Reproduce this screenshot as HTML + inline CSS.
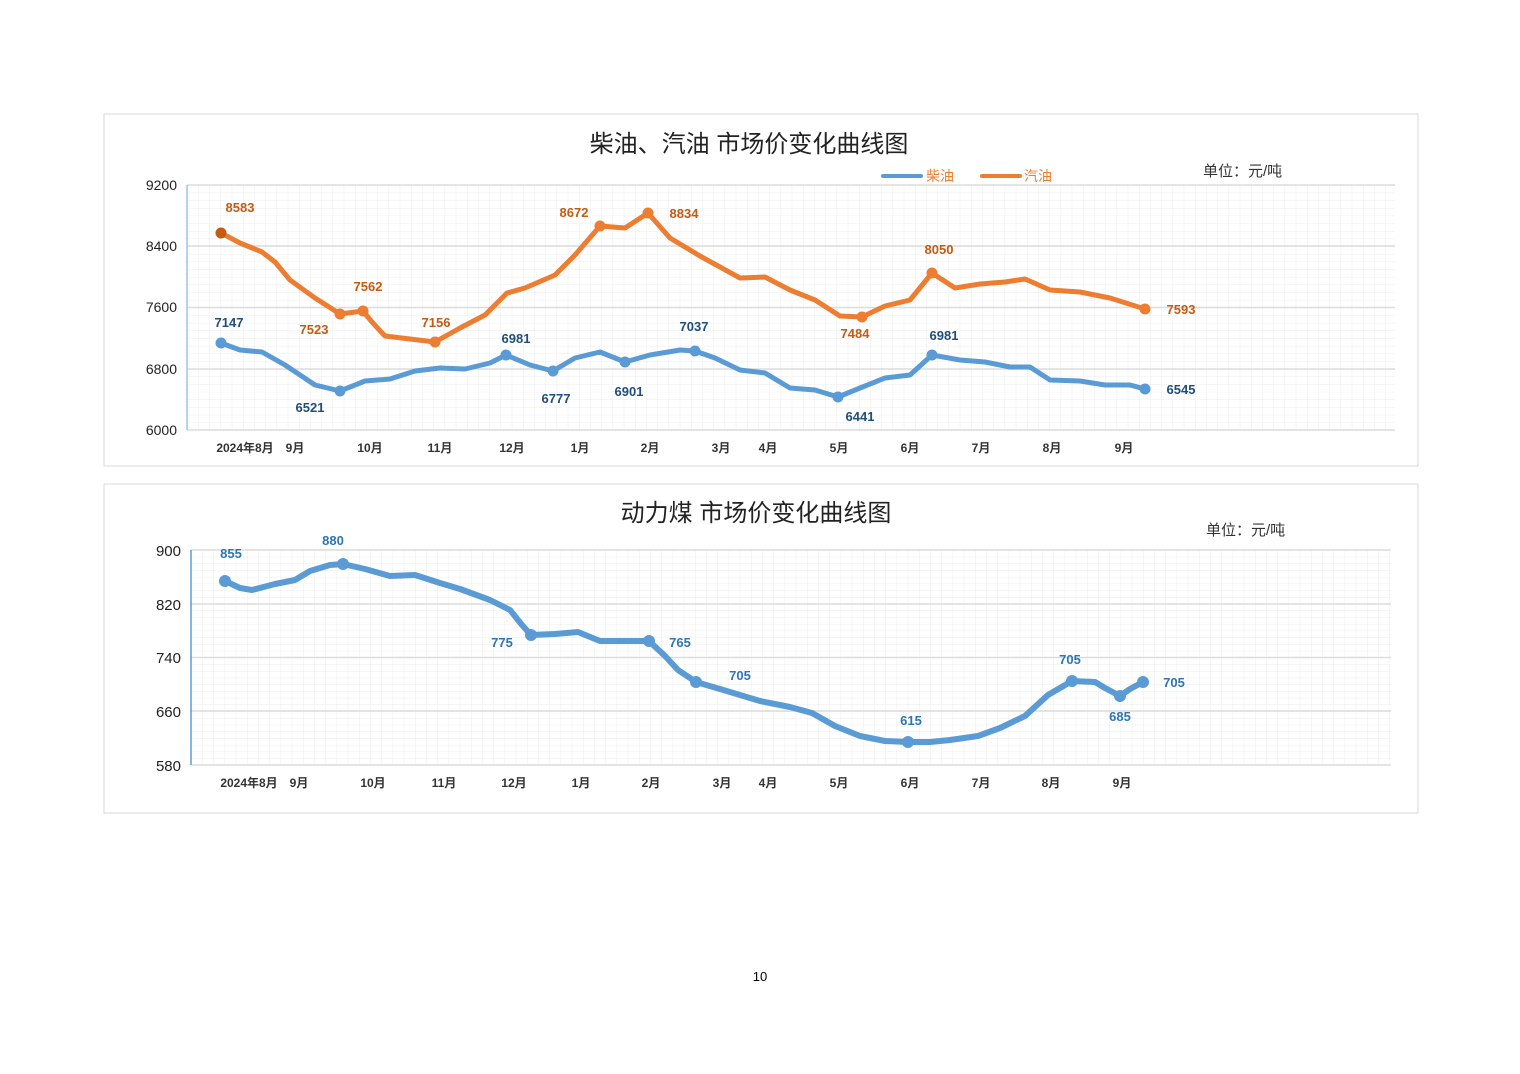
<!DOCTYPE html>
<html><head><meta charset="utf-8"><style>
body{margin:0;background:#fff}
svg{display:block}
text{font-family:"Liberation Sans","Noto Sans CJK SC",sans-serif}
</style></head><body>
<svg width="1520" height="1074" viewBox="0 0 1520 1074" xmlns="http://www.w3.org/2000/svg">
<defs>
<pattern id="g1" x="187" y="185" width="11.2" height="7.66" patternUnits="userSpaceOnUse">
<path d="M0 0V7.66M0 0H11.2" stroke="#ececec" stroke-width="1" fill="none"/></pattern>
<pattern id="g2" x="191" y="550" width="11.2" height="6.72" patternUnits="userSpaceOnUse">
<path d="M0 0V6.72M0 0H11.2" stroke="#ececec" stroke-width="1" fill="none"/></pattern>
</defs>
<rect width="1520" height="1074" fill="#fff"/>
<!-- TOP CHART -->
<rect x="104" y="114" width="1314" height="352" fill="#fff" stroke="#d9d9d9"/>
<text x="749" y="152" font-size="24" text-anchor="middle" fill="#222">柴油、汽油 市场价变化曲线图</text>
<line x1="883" y1="176" x2="921" y2="176" stroke="#5b9bd5" stroke-width="4" stroke-linecap="round"/>
<text x="926" y="181" font-size="14" fill="#ed7d31" font-family="Liberation Serif,'Noto Serif CJK SC',serif">柴油</text>
<line x1="982" y1="176" x2="1020" y2="176" stroke="#ed7d31" stroke-width="4" stroke-linecap="round"/>
<text x="1024" y="181" font-size="14" fill="#ed7d31" font-family="Liberation Serif,'Noto Serif CJK SC',serif">汽油</text>
<text x="1203" y="176" font-size="15" fill="#333" font-family="Liberation Serif,'Noto Serif CJK SC',serif">单位：元/吨</text>
<rect x="187" y="185" width="1208" height="245" fill="url(#g1)"/>
<g stroke="#dcdcdc" stroke-width="1.5"><line x1="187" y1="185" x2="1395" y2="185"/><line x1="187" y1="246" x2="1395" y2="246"/><line x1="187" y1="307.5" x2="1395" y2="307.5"/><line x1="187" y1="369" x2="1395" y2="369"/><line x1="187" y1="430" x2="1395" y2="430"/></g>
<line x1="187" y1="185" x2="187" y2="430" stroke="#9dc3e6" stroke-width="1.5"/>
<g font-size="14" fill="#222" text-anchor="end"><text x="177" y="190">9200</text><text x="177" y="251">8400</text><text x="177" y="312">7600</text><text x="177" y="374">6800</text><text x="177" y="435">6000</text></g>
<g font-size="12" fill="#333" text-anchor="middle" font-weight="bold"><text x="245" y="452">2024年8月</text><text x="295" y="452">9月</text><text x="370" y="452">10月</text><text x="440" y="452">11月</text><text x="512" y="452">12月</text><text x="580" y="452">1月</text><text x="650" y="452">2月</text><text x="721" y="452">3月</text><text x="768" y="452">4月</text><text x="839" y="452">5月</text><text x="910" y="452">6月</text><text x="981" y="452">7月</text><text x="1052" y="452">8月</text><text x="1124" y="452">9月</text></g>
<polyline fill="none" stroke="#ed7d31" stroke-width="5" stroke-linejoin="round" stroke-linecap="round" points="221,233 240,243 262,252 275,262 290,280 315,298 340,314 363,311 372,322 385,336 410,339 435,342 460,328 485,315 507,293 525,288 555,275 575,255 600,226 625,228 648,213 670,238 700,256 740,278 765,277 790,290 815,300 840,316 862,317 885,306 910,300 932,273 955,288 980,284 1005,282 1025,279 1050,290 1080,292 1110,298 1145,309"/>
<polyline fill="none" stroke="#5b9bd5" stroke-width="5" stroke-linejoin="round" stroke-linecap="round" points="221,343 240,350 262,352 285,365 315,385 340,391 365,381 390,379 415,371 440,368 465,369 490,363 506,355 530,365 553,371 575,358 600,352 625,362 650,355 680,350 695,351 715,358 740,370 765,373 790,388 815,390 838,397 860,388 885,378 910,375 932,355 960,360 985,362 1010,367 1030,367 1050,380 1080,381 1105,385 1130,385 1145,389"/>
<g fill="#ed7d31"><circle cx="221" cy="233" r="5.5" fill="#c55a11"/><circle cx="340" cy="314" r="5.5"/><circle cx="363" cy="311" r="5.5"/><circle cx="435" cy="342" r="5.5"/><circle cx="600" cy="226" r="5.5"/><circle cx="648" cy="213" r="5.5"/><circle cx="862" cy="317" r="5.5"/><circle cx="932" cy="273" r="5.5"/><circle cx="1145" cy="309" r="5.5"/></g>
<g fill="#5b9bd5"><circle cx="221" cy="343" r="5.5"/><circle cx="340" cy="391" r="5.5"/><circle cx="506" cy="355" r="5.5"/><circle cx="553" cy="371" r="5.5"/><circle cx="625" cy="362" r="5.5"/><circle cx="695" cy="351" r="5.5"/><circle cx="838" cy="397" r="5.5"/><circle cx="932" cy="355" r="5.5"/><circle cx="1145" cy="389" r="5.5"/></g>
<g font-size="13" font-weight="bold" fill="#c55a11" text-anchor="middle"><text x="240" y="212">8583</text><text x="314" y="334">7523</text><text x="368" y="291">7562</text><text x="436" y="327">7156</text><text x="574" y="217">8672</text><text x="684" y="218">8834</text><text x="855" y="338">7484</text><text x="939" y="254">8050</text><text x="1181" y="314">7593</text></g>
<g font-size="13" font-weight="bold" fill="#1f4e79" text-anchor="middle"><text x="229" y="327">7147</text><text x="310" y="412">6521</text><text x="516" y="343">6981</text><text x="556" y="403">6777</text><text x="629" y="396">6901</text><text x="694" y="331">7037</text><text x="860" y="421">6441</text><text x="944" y="340">6981</text><text x="1181" y="394">6545</text></g>
<!-- BOTTOM CHART -->
<rect x="104" y="484" width="1314" height="329" fill="#fff" stroke="#d9d9d9"/>
<text x="756" y="521" font-size="24" text-anchor="middle" fill="#222">动力煤 市场价变化曲线图</text>
<text x="1206" y="535" font-size="15" fill="#333" font-family="Liberation Serif,'Noto Serif CJK SC',serif">单位：元/吨</text>
<rect x="191" y="550" width="1200" height="215" fill="url(#g2)"/>
<g stroke="#dcdcdc" stroke-width="1.5"><line x1="191" y1="550" x2="1391" y2="550"/><line x1="191" y1="604" x2="1391" y2="604"/><line x1="191" y1="657.5" x2="1391" y2="657.5"/><line x1="191" y1="711" x2="1391" y2="711"/><line x1="191" y1="765" x2="1391" y2="765"/></g>
<line x1="191" y1="550" x2="191" y2="765" stroke="#5b9bd5" stroke-width="1.5"/>
<g font-size="15" fill="#222" text-anchor="end"><text x="181" y="556">900</text><text x="181" y="610">820</text><text x="181" y="663">740</text><text x="181" y="717">660</text><text x="181" y="771">580</text></g>
<g font-size="12" fill="#333" text-anchor="middle" font-weight="bold"><text x="249" y="787">2024年8月</text><text x="299" y="787">9月</text><text x="373" y="787">10月</text><text x="444" y="787">11月</text><text x="514" y="787">12月</text><text x="581" y="787">1月</text><text x="651" y="787">2月</text><text x="722" y="787">3月</text><text x="768" y="787">4月</text><text x="839" y="787">5月</text><text x="910" y="787">6月</text><text x="981" y="787">7月</text><text x="1051" y="787">8月</text><text x="1122" y="787">9月</text></g>
<polyline fill="none" stroke="#5b9bd5" stroke-width="6" stroke-linejoin="round" stroke-linecap="round" points="225,581 240,588 252,590 275,584 295,580 310,571 330,565 343,564 365,569 390,576 415,575 440,583 460,589 490,600 510,610 522,625 531,635 555,634 578,632 600,641 625,641 649,641 665,656 678,670 696,682 720,689 760,701 790,707 812,713 835,726 860,736 885,741 908,742 930,742 950,740 978,736 1000,728 1025,716 1048,695 1072,681 1095,682 1105,688 1120,696 1130,689 1143,682"/>
<g fill="#5b9bd5"><circle cx="225" cy="581" r="6"/><circle cx="343" cy="564" r="6"/><circle cx="531" cy="635" r="6"/><circle cx="649" cy="641" r="6"/><circle cx="696" cy="682" r="6"/><circle cx="908" cy="742" r="6"/><circle cx="1072" cy="681" r="6"/><circle cx="1120" cy="696" r="6"/><circle cx="1143" cy="682" r="6"/></g>
<g font-size="13" font-weight="bold" fill="#2e75b6" text-anchor="middle"><text x="231" y="558">855</text><text x="333" y="545">880</text><text x="502" y="647">775</text><text x="680" y="647">765</text><text x="740" y="680">705</text><text x="911" y="725">615</text><text x="1070" y="664">705</text><text x="1120" y="721">685</text><text x="1174" y="687">705</text></g>
<text x="760" y="981" font-size="13" text-anchor="middle" fill="#000">10</text>
</svg>
</body></html>
